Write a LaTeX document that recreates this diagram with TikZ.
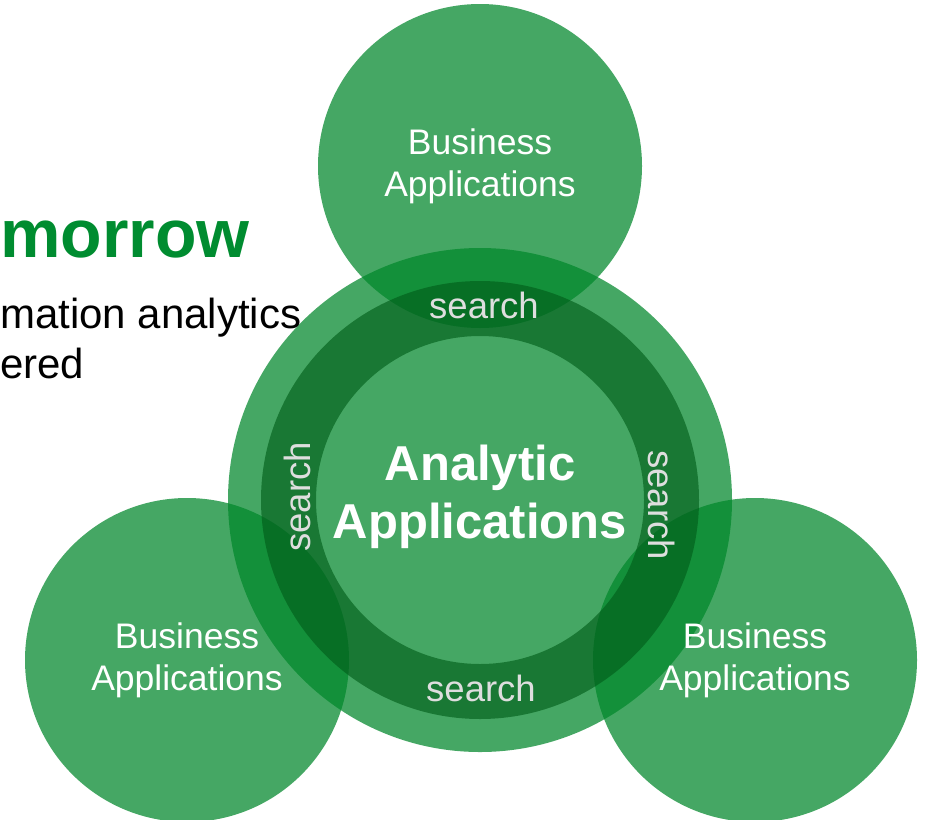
\documentclass[tikz,border=0pt]{standalone}
\usepackage{fontspec}
\setmainfont{Liberation Sans}
\usepackage{tikz}

\definecolor{circgreen}{RGB}{0,135,42}
\definecolor{ringgreen}{RGB}{0,93,26}
\definecolor{titlegreen}{RGB}{0,140,48}
\definecolor{searchgrey}{RGB}{222,222,222}

\begin{document}
\begin{tikzpicture}[x=1pt,y=-1pt,
    bizcircle/.style={circle, fill=circgreen, fill opacity=0.73, minimum size=324pt, inner sep=0pt},
    hubcircle/.style={circle, fill=circgreen, fill opacity=0.73, minimum size=504pt, inner sep=0pt},
    bizlabel/.style={text=white, align=center, font=\fontsize{35.5}{42}\selectfont},
    searchlabel/.style={text=searchgrey, inner sep=0pt, font=\fontsize{36.5}{42}\selectfont},
    hublabel/.style={text=white, align=center, font=\bfseries\fontsize{49}{58}\selectfont}]
    \useasboundingbox (0,0) rectangle (925,819);

    % Draw the circles
    \node[hubcircle] (hub) at (480,500) {};
    \node[bizcircle] (biztop) at (480,166) {};
    \node[bizcircle] (bizleft) at (187,660) {};
    \node[bizcircle] (bizright) at (755,660) {};

    % Dark ring round the hub
    \fill[ringgreen, fill opacity=0.64, even odd rule] (hub.center) circle[radius=219pt] (hub.center) circle[radius=164pt];

    % Labels of the circles
    \node[bizlabel] (biztoptext) at (biztop.center) {Business\\Applications};
    \node[bizlabel] (bizlefttext) at (bizleft.center) {Business\\Applications};
    \node[bizlabel] (bizrighttext) at (bizright.center) {Business\\Applications};
    \node[hublabel] (hubtext) at (480,497) {Analytic\\Applications};

    % Labels on the ring
    \node[searchlabel] (searchtop) at (484,305) {search};
    \node[searchlabel] (searchbottom) at (481,688) {search};
    \node[searchlabel, rotate=90] (searchleft) at (297,497) {search};
    \node[searchlabel, rotate=-90] (searchright) at (662,505) {search};

    % Heading text on the left
    \node[anchor=base west, inner sep=0pt, text=titlegreen, font=\bfseries\fontsize{68}{80}\selectfont] (title) at (0,257) {morrow};
    \node[anchor=base west, inner sep=0pt, font=\fontsize{42}{50}\selectfont] (lineone) at (0,328) {mation analytics};
    \node[anchor=base west, inner sep=0pt, font=\fontsize{42}{50}\selectfont] (linetwo) at (0,378) {ered};
\end{tikzpicture}
\end{document}
